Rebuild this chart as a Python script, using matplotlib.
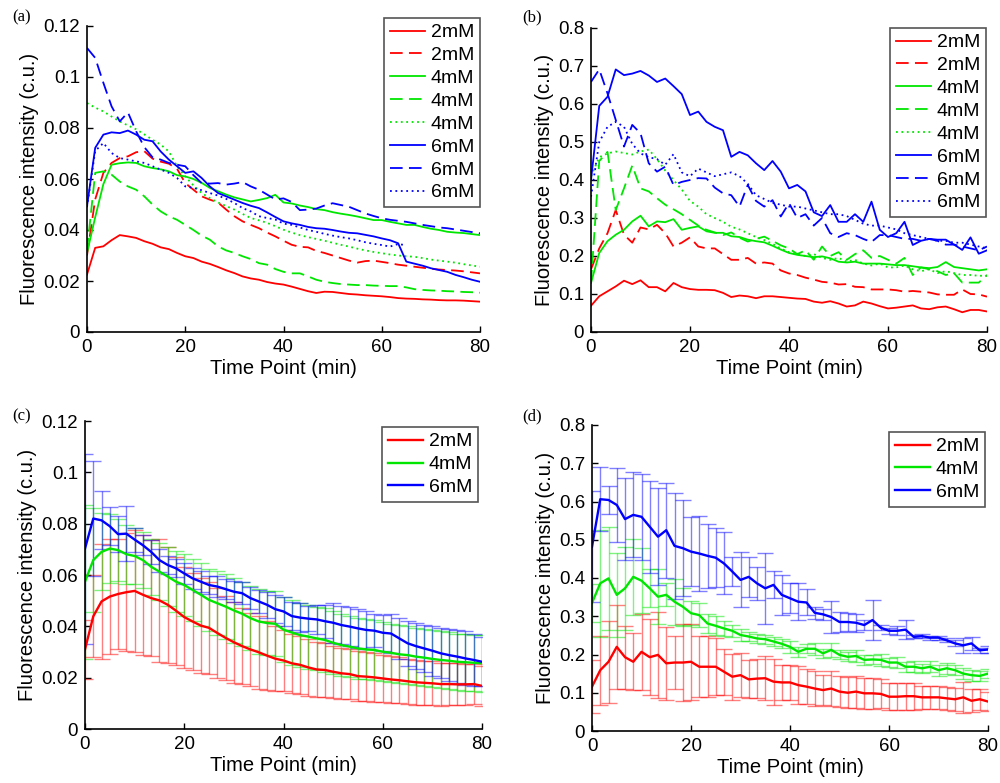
import numpy as np
import matplotlib
matplotlib.use("Agg")
import matplotlib.pyplot as plt
from matplotlib.ticker import FuncFormatter

plt.rcParams["font.family"] = ["Liberation Sans", "DejaVu Sans"]

# time points (min), one every 100 s
t = np.linspace(0, 80, 49)

# ---- panel (a): single experiments, 2/4/6 mM ----
a_2mM_1 = [0.0225, 0.033, 0.0336, 0.036, 0.038, 0.0375, 0.0369, 0.0356, 0.0346, 0.0332,
           0.0325, 0.031, 0.0297, 0.029, 0.0276, 0.0267, 0.0255, 0.0242, 0.0231, 0.0218,
           0.021, 0.0205, 0.0196, 0.019, 0.0186, 0.0178, 0.0169, 0.016, 0.0153, 0.0158,
           0.0157, 0.0153, 0.0149, 0.0147, 0.0144, 0.0142, 0.014, 0.0137, 0.0133, 0.0131,
           0.013, 0.0128, 0.0127, 0.0125, 0.0124, 0.0124, 0.0123, 0.0121, 0.0119]
a_2mM_2 = [0.030, 0.052, 0.0624, 0.0663, 0.0682, 0.0689, 0.0705, 0.0709, 0.068, 0.0668,
           0.066, 0.064, 0.0584, 0.0558, 0.0532, 0.0519, 0.0508, 0.048, 0.0454, 0.0434,
           0.042, 0.0407, 0.039, 0.0375, 0.0358, 0.0342, 0.0334, 0.0332, 0.0318, 0.031,
           0.030, 0.029, 0.028, 0.0272, 0.0278, 0.028, 0.0275, 0.027, 0.0264, 0.026,
           0.0256, 0.0252, 0.0248, 0.0245, 0.0243, 0.0241, 0.0238, 0.0234, 0.023]
a_4mM_1 = [0.031, 0.045, 0.058, 0.0656, 0.0662, 0.0665, 0.0663, 0.065, 0.0643, 0.0638,
           0.063, 0.0615, 0.061, 0.060, 0.0585, 0.0565, 0.0552, 0.0539, 0.0528, 0.052,
           0.0512, 0.0518, 0.0525, 0.0538, 0.0508, 0.0504, 0.0496, 0.049, 0.0482, 0.0478,
           0.047, 0.0464, 0.0459, 0.0453, 0.0446, 0.0439, 0.0439, 0.0432, 0.0426, 0.042,
           0.042, 0.0412, 0.0405, 0.040, 0.0393, 0.039, 0.0388, 0.0384, 0.038]
a_4mM_2 = [0.032, 0.0624, 0.063, 0.0617, 0.059, 0.0571, 0.0558, 0.0532, 0.050, 0.0473,
           0.0454, 0.044, 0.042, 0.040, 0.0378, 0.0362, 0.0336, 0.032, 0.031, 0.0297,
           0.0286, 0.027, 0.0264, 0.0247, 0.0236, 0.023, 0.023, 0.0218, 0.0205, 0.0197,
           0.0192, 0.0188, 0.0186, 0.0184, 0.0184, 0.0182, 0.0181, 0.018, 0.018, 0.0175,
           0.0168, 0.0165, 0.0163, 0.0162, 0.016, 0.0159, 0.0157, 0.0156, 0.0154]
a_4mM_3 = [0.0898, 0.088, 0.0865, 0.0845, 0.0826, 0.081, 0.0795, 0.0775, 0.0754, 0.0735,
           0.0708, 0.065, 0.061, 0.0575, 0.0545, 0.0525, 0.0508, 0.0494, 0.048, 0.0463,
           0.0447, 0.0438, 0.0428, 0.0415, 0.0401, 0.039, 0.038, 0.0372, 0.0365, 0.0358,
           0.035, 0.0342, 0.0335, 0.0327, 0.032, 0.0314, 0.0309, 0.0304, 0.030, 0.0297,
           0.0295, 0.029, 0.0284, 0.028, 0.0276, 0.0272, 0.0266, 0.0261, 0.0256]
a_6mM_1 = [0.0493, 0.0722, 0.0774, 0.0783, 0.078, 0.079, 0.0774, 0.0754, 0.0748, 0.0708,
           0.0676, 0.065, 0.0624, 0.063, 0.0604, 0.0571, 0.0545, 0.0532, 0.0519, 0.0506,
           0.0495, 0.0486, 0.0469, 0.0451, 0.0434, 0.0426, 0.042, 0.0412, 0.0407, 0.0405,
           0.040, 0.0394, 0.0389, 0.0387, 0.0381, 0.0375, 0.0367, 0.036, 0.0348, 0.0276,
           0.0268, 0.026, 0.025, 0.0243, 0.0236, 0.0224, 0.0215, 0.0205, 0.0197]
a_6mM_2 = [0.1114, 0.1075, 0.0977, 0.0885, 0.0826, 0.0861, 0.0787, 0.0725, 0.0685, 0.0676,
           0.0663, 0.0656, 0.065, 0.0615, 0.0584, 0.0582, 0.0584, 0.0578, 0.0582, 0.0588,
           0.0571, 0.0558, 0.0539, 0.052, 0.0524, 0.051, 0.0478, 0.048, 0.0484, 0.0496,
           0.0505, 0.0498, 0.0491, 0.0478, 0.0465, 0.0455, 0.0446, 0.044, 0.0436, 0.0432,
           0.0426, 0.042, 0.0415, 0.041, 0.0407, 0.0402, 0.0397, 0.0392, 0.0387]
a_6mM_3 = [0.049, 0.071, 0.0741, 0.0702, 0.0682, 0.0676, 0.0669, 0.0663, 0.065, 0.0637,
           0.0624, 0.0604, 0.0571, 0.0565, 0.0556, 0.0545, 0.0535, 0.0522, 0.0506, 0.0486,
           0.0473, 0.0454, 0.0447, 0.0441, 0.0425, 0.042, 0.041, 0.040, 0.0393, 0.0385,
           0.0378, 0.0372, 0.0367, 0.036, 0.0352, 0.0346, 0.0341, 0.0335, 0.0345, 0.034,
           np.nan, np.nan, np.nan, np.nan, np.nan, np.nan, np.nan, np.nan, np.nan]

# ---- panel (b) ----
b_2mM_1 = [0.069, 0.094, 0.107, 0.12, 0.135, 0.126, 0.136, 0.118, 0.118, 0.107,
           0.129, 0.118, 0.113, 0.111, 0.111, 0.11, 0.103, 0.092, 0.096, 0.094,
           0.089, 0.094, 0.094, 0.092, 0.09, 0.088, 0.087, 0.08, 0.077, 0.081,
           0.075, 0.067, 0.07, 0.08, 0.075, 0.068, 0.062, 0.064, 0.067, 0.07,
           0.062, 0.06, 0.065, 0.067, 0.06, 0.052, 0.058, 0.058, 0.054]
b_2mM_2 = [0.165, 0.22, 0.26, 0.321, 0.256, 0.235, 0.275, 0.27, 0.282, 0.26,
           0.225, 0.235, 0.249, 0.225, 0.22, 0.22, 0.205, 0.19, 0.19, 0.195,
           0.18, 0.183, 0.18, 0.162, 0.154, 0.15, 0.143, 0.138, 0.132, 0.13,
           0.125, 0.126, 0.119, 0.118, 0.112, 0.112, 0.112, 0.11, 0.106, 0.108,
           0.106, 0.104, 0.099, 0.098, 0.098, 0.112, 0.1, 0.099, 0.093]
b_4mM_1 = [0.129, 0.208, 0.239, 0.256, 0.269, 0.291, 0.306, 0.278, 0.291, 0.289,
           0.297, 0.269, 0.274, 0.278, 0.265, 0.261, 0.261, 0.252, 0.25, 0.243,
           0.239, 0.236, 0.227, 0.217, 0.208, 0.203, 0.2, 0.197, 0.199, 0.194,
           0.185, 0.183, 0.185, 0.18, 0.18, 0.18, 0.178, 0.176, 0.176, 0.173,
           0.17, 0.168, 0.171, 0.184, 0.171, 0.168, 0.165, 0.162, 0.165]
b_4mM_2 = [0.13, 0.45, 0.474, 0.321, 0.378, 0.438, 0.378, 0.37, 0.352, 0.335,
           0.323, 0.31, 0.295, 0.28, 0.269, 0.262, 0.255, 0.262, 0.248, 0.238,
           0.245, 0.251, 0.24, 0.228, 0.22, 0.205, 0.215, 0.19, 0.225, 0.2,
           0.21, 0.19, 0.205, 0.215, 0.195, 0.2, 0.19, 0.18, 0.195, 0.15,
           0.17, 0.165, 0.16, 0.15, 0.155, 0.13, 0.13, 0.13, 0.15]
b_4mM_3 = [0.41, 0.46, 0.47, 0.475, 0.471, 0.467, 0.475, 0.48, 0.455, 0.425,
           0.4, 0.375, 0.345, 0.33, 0.31, 0.3, 0.29, 0.277, 0.27, 0.26,
           0.25, 0.242, 0.232, 0.22, 0.21, 0.205, 0.2, 0.205, 0.195, 0.19,
           0.195, 0.185, 0.19, 0.18, 0.175, 0.18, 0.17, 0.17, 0.175, 0.165,
           0.16, 0.165, 0.155, 0.16, 0.155, 0.15, 0.15, 0.148, 0.148]
b_6mM_1 = [0.4, 0.595, 0.619, 0.691, 0.676, 0.68, 0.687, 0.675, 0.658, 0.667,
           0.647, 0.626, 0.571, 0.58, 0.553, 0.54, 0.531, 0.461, 0.474, 0.465,
           0.444, 0.426, 0.45, 0.422, 0.378, 0.387, 0.37, 0.315, 0.305, 0.334,
           0.29, 0.29, 0.31, 0.29, 0.343, 0.269, 0.25, 0.26, 0.29, 0.229,
           0.24, 0.245, 0.243, 0.243, 0.23, 0.216, 0.249, 0.206, 0.215]
b_6mM_2 = [0.658, 0.691, 0.628, 0.558, 0.488, 0.545, 0.523, 0.444, 0.422, 0.435,
           0.387, 0.395, 0.4, 0.405, 0.404, 0.38, 0.365, 0.36, 0.33, 0.387,
           0.345, 0.33, 0.347, 0.304, 0.339, 0.3, 0.31, 0.28, 0.3, 0.26,
           0.25, 0.26, 0.255, 0.245, 0.237, 0.255, 0.255, 0.25, 0.245, 0.245,
           0.24, 0.245, 0.24, 0.23, 0.23, 0.225, 0.22, 0.215, 0.225]
b_6mM_3 = [0.356, 0.5, 0.54, 0.553, 0.54, 0.495, 0.47, 0.46, 0.455, 0.44,
           0.468, 0.42, 0.41, 0.43, 0.42, 0.41, 0.415, 0.42, 0.41, 0.39,
           0.36, 0.35, 0.34, 0.335, 0.33, 0.33, 0.325, 0.32, 0.315, 0.31,
           0.31, 0.305, 0.295, 0.285, 0.28, 0.28, 0.275, 0.27, 0.26, 0.255,
           0.25, 0.245, 0.24, 0.24, 0.235, 0.235, 0.23, 0.225, 0.22]

# ---- panel (c): mean +/- error ----
c_2mM = [0.031, 0.0439, 0.0497, 0.0516, 0.0526, 0.0533, 0.0538, 0.0523, 0.051, 0.0501,
         0.0484, 0.0461, 0.0436, 0.0419, 0.0403, 0.0394, 0.0374, 0.0355, 0.0338, 0.0323,
         0.031, 0.0299, 0.0286, 0.0274, 0.0267, 0.0256, 0.025, 0.024, 0.0232, 0.023,
         0.0223, 0.0217, 0.0214, 0.0206, 0.0204, 0.0201, 0.0197, 0.0193, 0.019, 0.0186,
         0.0182, 0.018, 0.0178, 0.0175, 0.0175, 0.0174, 0.0174, 0.0175, 0.0168]
c_2mM_err = [0.0115, 0.016, 0.0223, 0.0223, 0.0214, 0.023, 0.0237, 0.0233, 0.0226, 0.024,
             0.0226, 0.021, 0.0197, 0.019, 0.0184, 0.018, 0.0174, 0.0164, 0.0157, 0.0149,
             0.0142, 0.0142, 0.0134, 0.0126, 0.012, 0.0115, 0.0112, 0.011, 0.0108, 0.0105,
             0.0102, 0.01, 0.0098, 0.0097, 0.0096, 0.0094, 0.0092, 0.009, 0.009, 0.0088,
             0.0087, 0.0086, 0.0085, 0.0084, 0.0083, 0.0082, 0.008, 0.0079, 0.0078]
c_4mM = [0.0574, 0.0658, 0.069, 0.0703, 0.0697, 0.0681, 0.0674, 0.0658, 0.0632, 0.0613,
         0.0594, 0.0574, 0.0561, 0.0542, 0.0523, 0.0503, 0.049, 0.0477, 0.0462, 0.0449,
         0.0432, 0.0419, 0.0413, 0.041, 0.0387, 0.0376, 0.0366, 0.036, 0.0353, 0.0347,
         0.0336, 0.0327, 0.0321, 0.0314, 0.031, 0.0308, 0.0301, 0.0297, 0.0291, 0.0288,
         0.0282, 0.0278, 0.0273, 0.0269, 0.0266, 0.0262, 0.026, 0.0258, 0.0256]
c_4mM_err = [0.030, 0.0204, 0.015, 0.0133, 0.012, 0.0115, 0.011, 0.0108, 0.011, 0.011,
             0.0115, 0.0118, 0.012, 0.012, 0.0122, 0.0122, 0.0125, 0.0125, 0.0125, 0.0125,
             0.0125, 0.0125, 0.0125, 0.0126, 0.0127, 0.0127, 0.0126, 0.0125, 0.0124, 0.0123,
             0.0122, 0.012, 0.012, 0.0118, 0.0117, 0.0116, 0.0115, 0.0114, 0.0113, 0.0113,
             0.0112, 0.0112, 0.0111, 0.0111, 0.011, 0.011, 0.011, 0.011, 0.011]
c_6mM = [0.0703, 0.082, 0.0813, 0.079, 0.0759, 0.0761, 0.0738, 0.0716, 0.069, 0.0658,
         0.0639, 0.0626, 0.0606, 0.0587, 0.0574, 0.0561, 0.0555, 0.0545, 0.0535, 0.0529,
         0.051, 0.0497, 0.0484, 0.0467, 0.0458, 0.044, 0.0434, 0.043, 0.0427, 0.042,
         0.0414, 0.0405, 0.0399, 0.0392, 0.0386, 0.0383, 0.0375, 0.0372, 0.0353, 0.0334,
         0.0323, 0.0314, 0.0305, 0.0295, 0.0288, 0.0282, 0.0275, 0.0269, 0.0262]
c_6mM_err = [0.037, 0.0225, 0.0113, 0.0075, 0.007, 0.0107, 0.0047, 0.004, 0.0048, 0.0045,
             0.0035, 0.0035, 0.004, 0.004, 0.004, 0.0035, 0.004, 0.004, 0.0042, 0.0042,
             0.0042, 0.0045, 0.005, 0.0055, 0.0055, 0.0055, 0.0055, 0.005, 0.0055, 0.0065,
             0.0078, 0.0075, 0.0075, 0.0075, 0.0075, 0.0065, 0.007, 0.0075, 0.008, 0.0088,
             0.009, 0.0092, 0.0097, 0.0098, 0.01, 0.0104, 0.0105, 0.01, 0.0096]

# ---- panel (d): mean +/- error ----
d_2mM = [0.116, 0.159, 0.181, 0.22, 0.193, 0.181, 0.207, 0.193, 0.199, 0.177,
         0.179, 0.179, 0.181, 0.168, 0.168, 0.168, 0.155, 0.142, 0.146, 0.135,
         0.137, 0.138, 0.129, 0.127, 0.127, 0.12, 0.116, 0.111, 0.107, 0.111,
         0.103, 0.1, 0.103, 0.0985, 0.0985, 0.097, 0.0897, 0.0897, 0.091, 0.091,
         0.088, 0.088, 0.088, 0.0854, 0.083, 0.088, 0.079, 0.083, 0.077]
d_2mM_err = [0.07, 0.09, 0.107, 0.11, 0.082, 0.075, 0.1, 0.1, 0.113, 0.095,
             0.07, 0.1, 0.1, 0.08, 0.08, 0.075, 0.06, 0.06, 0.058, 0.05,
             0.05, 0.058, 0.06, 0.045, 0.045, 0.05, 0.045, 0.045, 0.04, 0.045,
             0.04, 0.04, 0.042, 0.04, 0.04, 0.038, 0.035, 0.035, 0.035, 0.035,
             0.03, 0.03, 0.03, 0.03, 0.03, 0.04, 0.03, 0.028, 0.025]
d_4mM = [0.335, 0.386, 0.399, 0.356, 0.373, 0.403, 0.393, 0.373, 0.351, 0.356,
         0.338, 0.325, 0.308, 0.303, 0.281, 0.275, 0.268, 0.262, 0.251, 0.247,
         0.242, 0.24, 0.234, 0.228, 0.22, 0.207, 0.215, 0.215, 0.203, 0.212,
         0.199, 0.194, 0.196, 0.186, 0.187, 0.186, 0.179, 0.179, 0.168, 0.168,
         0.164, 0.168, 0.159, 0.164, 0.159, 0.15, 0.146, 0.144, 0.15]
d_4mM_err = [0.05, 0.14, 0.135, 0.11, 0.109, 0.1, 0.085, 0.05, 0.072, 0.03,
             0.06, 0.05, 0.032, 0.032, 0.025, 0.025, 0.02, 0.015, 0.015, 0.012,
             0.012, 0.012, 0.012, 0.012, 0.015, 0.013, 0.012, 0.015, 0.012, 0.018,
             0.012, 0.012, 0.015, 0.014, 0.012, 0.015, 0.012, 0.014, 0.013, 0.015,
             0.012, 0.015, 0.014, 0.015, 0.013, 0.015, 0.014, 0.013, 0.012]
d_6mM = [0.482, 0.606, 0.604, 0.591, 0.554, 0.565, 0.56, 0.534, 0.508, 0.525,
         0.484, 0.478, 0.469, 0.464, 0.458, 0.453, 0.438, 0.417, 0.395, 0.403,
         0.386, 0.373, 0.382, 0.356, 0.347, 0.338, 0.336, 0.309, 0.305, 0.298,
         0.285, 0.285, 0.283, 0.277, 0.29, 0.27, 0.262, 0.262, 0.265, 0.246,
         0.248, 0.244, 0.244, 0.237, 0.229, 0.224, 0.229, 0.211, 0.213]
d_6mM_err = [0.145, 0.083, 0.036, 0.096, 0.107, 0.111, 0.112, 0.12, 0.126, 0.124,
             0.139, 0.126, 0.091, 0.099, 0.083, 0.077, 0.081, 0.039, 0.072, 0.053,
             0.044, 0.093, 0.035, 0.052, 0.039, 0.048, 0.034, 0.016, 0.015, 0.042,
             0.026, 0.024, 0.024, 0.013, 0.052, 0.007, 0.008, 0.012, 0.025, 0.004,
             0.005, 0.005, 0.005, 0.005, 0.008, 0.02, 0.017, 0.006, 0.008]

RED, GREEN, BLUE = "#ff0000", "#00e600", "#0000ff"
styles = {"solid": "-", "dash": (0, (7, 3.5)), "dot": (0, (1, 2))}

fig = plt.figure(figsize=(10, 7.83), dpi=100)
W, H = 1000, 783


def make_axes(left, top, right, bottom):
    return fig.add_axes([left / W, 1 - bottom / H, (right - left) / W, (bottom - top) / H])


def style_axes(ax, ymax, ystep):
    ax.set_xlim(0, 80)
    ax.set_ylim(0, ymax)
    ax.set_xticks([0, 20, 40, 60, 80])
    ax.set_yticks(np.round(np.arange(0, ymax + ystep / 2, ystep), 4))
    ax.yaxis.set_major_formatter(FuncFormatter(lambda v, p: f"{v:g}"))
    ax.spines["top"].set_visible(False)
    ax.spines["right"].set_visible(False)
    for s in ("left", "bottom"):
        ax.spines[s].set_linewidth(1.2)
    ax.tick_params(direction="in", length=4, width=1.0, labelsize=13.5, pad=5)
    ax.set_xlabel("Time Point (min)", fontsize=14.5, labelpad=2)
    ax.set_ylabel("Fluorescence intensity (c.u.)", fontsize=14.5, labelpad=3)


def add_legend(ax, dx, dy):
    h = ax.bbox.height
    w = ax.bbox.width
    leg = ax.legend(loc="upper right", bbox_to_anchor=(1 + dx / w, 1 + dy / h),
                    borderaxespad=0, fontsize=14, fancybox=False, framealpha=1,
                    edgecolor="#555555", handlelength=1.8, handletextpad=0.3,
                    labelspacing=0.27, borderpad=0.3)
    leg.get_frame().set_linewidth(1.2)


# (a)
ax_a = make_axes(87, 26, 480, 332)
for y, c, ls, lab in [(a_2mM_1, RED, "solid", "2mM"), (a_2mM_2, RED, "dash", "2mM"),
                      (a_4mM_1, GREEN, "solid", "4mM"), (a_4mM_2, GREEN, "dash", "4mM"),
                      (a_4mM_3, GREEN, "dot", "4mM"), (a_6mM_1, BLUE, "solid", "6mM"),
                      (a_6mM_2, BLUE, "dash", "6mM"), (a_6mM_3, BLUE, "dot", "6mM")]:
    ax_a.plot(t, y, color=c, linestyle=styles[ls], lw=1.3, label=lab)
style_axes(ax_a, 0.12, 0.02)
add_legend(ax_a, 0, 8)

# (b)
ax_b = make_axes(591, 28, 987, 332)
for y, c, ls, lab in [(b_2mM_1, RED, "solid", "2mM"), (b_2mM_2, RED, "dash", "2mM"),
                      (b_4mM_1, GREEN, "solid", "4mM"), (b_4mM_2, GREEN, "dash", "4mM"),
                      (b_4mM_3, GREEN, "dot", "4mM"), (b_6mM_1, BLUE, "solid", "6mM"),
                      (b_6mM_2, BLUE, "dash", "6mM"), (b_6mM_3, BLUE, "dot", "6mM")]:
    ax_b.plot(t, y, color=c, linestyle=styles[ls], lw=1.3, label=lab)
style_axes(ax_b, 0.8, 0.1)
add_legend(ax_b, -1, 0)


def mean_panel(ax, series):
    for y, e, c, lab in series:
        ax.errorbar(t, y, yerr=e, fmt="none", ecolor=c, alpha=0.5, elinewidth=1.0,
                    capsize=5.5, capthick=1.0)
    for y, e, c, lab in series:
        ax.plot(t, y, color=c, lw=1.7, label=lab)


# (c)
ax_c = make_axes(85, 421, 482, 729)
mean_panel(ax_c, [(c_2mM, c_2mM_err, RED, "2mM"), (c_4mM, c_4mM_err, GREEN, "4mM"),
                  (c_6mM, c_6mM_err, BLUE, "6mM")])
style_axes(ax_c, 0.12, 0.02)
add_legend(ax_c, -4, -6)

# (d)
ax_d = make_axes(592, 425, 988, 731)
mean_panel(ax_d, [(d_2mM, d_2mM_err, RED, "2mM"), (d_4mM, d_4mM_err, GREEN, "4mM"),
                  (d_6mM, d_6mM_err, BLUE, "6mM")])
style_axes(ax_d, 0.8, 0.1)
add_legend(ax_d, -3, -7)

# panel letters
for x, y, s in [(12, 17, "(a)"), (522, 17, "(b)"), (12, 416, "(c)"), (522, 416, "(d)")]:
    fig.text(x / W, 1 - y / H, s, fontsize=12, family="Liberation Serif", va="center")

fig.savefig("out.png", dpi=100)
